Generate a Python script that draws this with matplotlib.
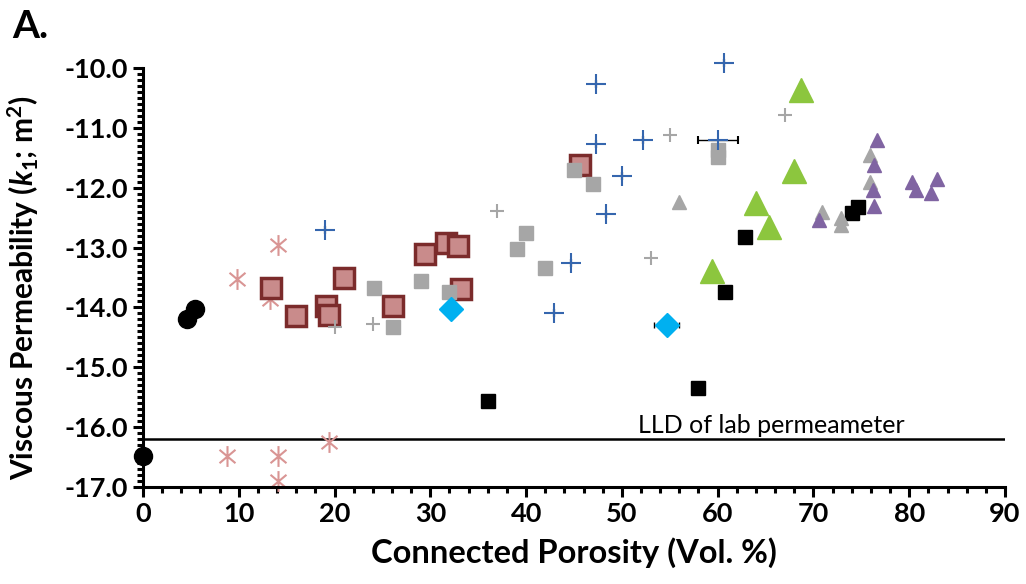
import numpy as np
import matplotlib
matplotlib.use('Agg')
import matplotlib.pyplot as plt
from matplotlib.path import Path
from matplotlib.ticker import MultipleLocator, FormatStrFormatter

plt.rcParams['font.family'] = ['Lato', 'DejaVu Sans']
plt.rcParams['axes.unicode_minus'] = False
plt.rcParams['mathtext.fontset'] = 'custom'
plt.rcParams['mathtext.rm'] = 'Lato:bold'
plt.rcParams['mathtext.it'] = 'Lato:italic:bold'
plt.rcParams['mathtext.bf'] = 'Lato:bold'

# porosity (vol %), log10 permeability (m^2) per sample group
circ_x = [4.6, 5.4, 0.0]
circ_y = [-14.2, -14.02, -16.48]

ast_x = [9.8, 14.1, 13.3, 8.8, 14.1, 14.1, 19.4]
ast_y = [-13.52, -12.95, -13.86, -16.48, -16.48, -16.9, -16.24]

brsq_x = [13.4, 16.0, 19.1, 19.4, 21.0, 26.1, 29.4, 31.6, 32.9, 33.2, 45.6]
brsq_y = [-13.67, -14.15, -13.98, -14.12, -13.5, -13.98, -13.11, -12.92, -12.97, -13.69, -11.62]

gsq_x = [24.1, 26.1, 29.0, 32.0, 40.0, 39.1, 42.0, 45.0, 47.0, 60.0, 60.0]
gsq_y = [-13.67, -14.33, -13.56, -13.74, -12.76, -13.03, -13.34, -11.7, -11.94, -11.37, -11.48]

gplus_x = [20.0, 24.0, 37.0, 55.0, 53.0, 67.0]
gplus_y = [-14.32, -14.27, -12.39, -11.12, -13.18, -10.78]

bplus_x = [19.0, 47.25, 60.7, 47.25, 52.2, 50.0, 48.3, 44.7, 42.9, 60.0]
bplus_y = [-12.7, -10.27, -9.92, -11.27, -11.2, -11.8, -12.44, -13.26, -14.1, -11.2]
bplus_xerr = [0, 0, 0, 0, 0, 0, 0, 0, 0, 2.1]

dia_x = [32.2, 54.7]
dia_y = [-14.02, -14.29]
dia_xerr = [0, 1.3]

bsq_x = [36.0, 57.9, 60.75, 62.9, 74.0, 74.7]
bsq_y = [-15.56, -15.34, -13.74, -12.83, -12.42, -12.32]

grn_x = [68.7, 68.0, 64.0, 65.4, 59.4]
grn_y = [-10.37, -11.72, -12.25, -12.66, -13.39]

gtri_x = [55.95, 70.9, 72.9, 72.9, 75.9, 75.9]
gtri_y = [-12.24, -12.4, -12.51, -12.62, -11.45, -11.9]

pur_x = [76.6, 76.3, 76.2, 76.3, 70.6, 80.3, 80.7, 82.3, 82.9]
pur_y = [-11.2, -11.62, -12.04, -12.3, -12.54, -11.9, -12.04, -12.08, -11.86]

lld = -16.2

# asterisk like the Excel one: a vertical stroke through an X
a = np.deg2rad(40)
c, s = np.cos(a), np.sin(a)
star = Path([(0, -1), (0, 1), (-c, -s), (c, s), (-c, s), (c, -s)],
            [Path.MOVETO, Path.LINETO] * 3)

fig = plt.figure(figsize=(10.26, 5.84), dpi=100)
ax = fig.add_axes([0.1394, 0.166, 0.8401, 0.7176])

kw = dict(linestyle='none', clip_on=False)
ax.plot(circ_x, circ_y, marker='o', ms=13, color='black', **kw)
ax.plot(ast_x, ast_y, marker=star, ms=15, mew=1.5, color='#d99594', **kw)
ax.plot(brsq_x, brsq_y, marker='s', ms=15, mfc='#c98b8b', mec='#7b2b2b', mew=2.5, **kw)
ax.plot(gsq_x, gsq_y, marker='s', ms=10, color='#a6a6a6', **kw)
ax.plot(gplus_x, gplus_y, marker='+', ms=10, mew=1.5, color='#a6a6a6', **kw)
ax.errorbar(bplus_x, bplus_y, xerr=bplus_xerr, fmt='+', ms=14, mew=1.5, color='#3566ae',
            ecolor='black', elinewidth=1, capsize=3, clip_on=False)
ax.errorbar(dia_x, dia_y, xerr=dia_xerr, fmt='D', ms=12, color='#00b0f0',
            ecolor='black', elinewidth=1, capsize=2, clip_on=False, zorder=1.9)
ax.plot(bsq_x, bsq_y, marker='s', ms=10, color='black', **kw)
ax.plot(grn_x, grn_y, marker='^', ms=17, color='#8cc63e', **kw)
ax.plot(gtri_x, gtri_y, marker='^', ms=10, color='#a6a6a6', **kw)
ax.plot(pur_x, pur_y, marker='^', ms=10, color='#8064a2', **kw)

ax.axhline(lld, color='black', lw=1.8, zorder=1)
ax.text(79.5, lld + 0.04, 'LLD of lab permeameter', fontsize=18, ha='right', va='bottom')

ax.set_xlim(0, 90)
ax.set_ylim(-17, -10)
ax.xaxis.set_major_locator(MultipleLocator(10))
ax.xaxis.set_minor_locator(MultipleLocator(2))
ax.yaxis.set_major_locator(MultipleLocator(1))
ax.yaxis.set_minor_locator(MultipleLocator(0.1))
ax.yaxis.set_major_formatter(FormatStrFormatter('%.1f'))

for sp in ['top', 'right']:
    ax.spines[sp].set_visible(False)
for sp in ['left', 'bottom']:
    ax.spines[sp].set_linewidth(2.2)
ax.tick_params(which='major', length=7, width=2.2, labelsize=19.5, pad=4)
ax.tick_params(which='minor', length=4, width=2.2)
for lab in ax.get_xticklabels() + ax.get_yticklabels():
    lab.set_fontweight('bold')

ax.set_xlabel('Connected Porosity (Vol. %)', fontsize=23.5, fontweight='bold', labelpad=8)
ax.set_ylabel(r'Viscous Permeability ($\mathit{k}_\mathbf{1}$; m$^\mathbf{2}$)',
              fontsize=21.5, fontweight='bold')
ax.yaxis.set_label_coords(-0.118, 0.475)
fig.text(0.012, 0.935, 'A.', fontsize=28, fontweight='bold')

fig.savefig('out.png', dpi=100)
